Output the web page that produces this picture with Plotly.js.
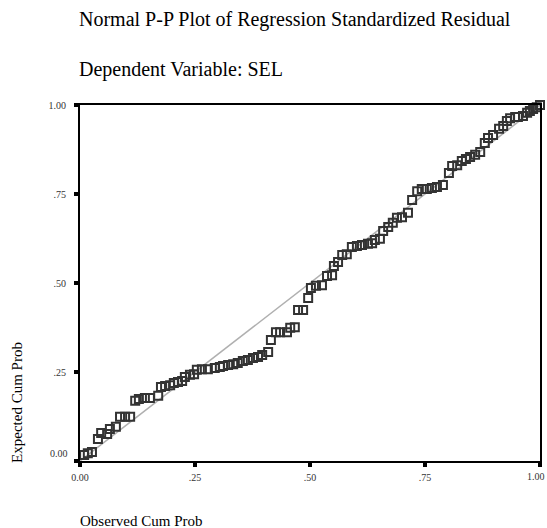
<!DOCTYPE html>
<html>
<head>
<meta charset="utf-8">
<script src="https://cdn.plot.ly/plotly-3.0.1.min.js"></script>
<style>html,body{margin:0;padding:0;background:#fff;}#chart{width:547px;height:528px;}</style>
</head>
<body>
<div id="chart"></div>
<script>
var observedCumProb = [0.009,0.017,0.026,0.039,0.046,0.059,0.065,0.078,0.087,0.098,0.109,0.120,0.128,0.141,0.152,0.170,0.176,0.185,0.196,0.204,0.213,0.222,0.228,0.239,0.248,0.254,0.265,0.278,0.293,0.304,0.311,0.322,0.333,0.343,0.354,0.365,0.376,0.387,0.396,0.409,0.415,0.426,0.435,0.450,0.457,0.467,0.474,0.485,0.496,0.502,0.513,0.526,0.537,0.548,0.552,0.561,0.570,0.580,0.591,0.602,0.613,0.626,0.635,0.641,0.652,0.659,0.670,0.680,0.689,0.700,0.713,0.722,0.733,0.743,0.754,0.765,0.776,0.789,0.802,0.809,0.820,0.830,0.839,0.848,0.859,0.870,0.880,0.887,0.898,0.911,0.920,0.928,0.935,0.946,0.952,0.963,0.972,0.978,0.985,0.993,1.000];
var expectedCumProb = [0.017,0.022,0.025,0.062,0.079,0.076,0.090,0.096,0.124,0.124,0.124,0.169,0.174,0.177,0.177,0.183,0.208,0.211,0.213,0.219,0.222,0.225,0.236,0.242,0.244,0.256,0.258,0.258,0.261,0.264,0.267,0.270,0.272,0.275,0.281,0.284,0.289,0.292,0.298,0.306,0.340,0.362,0.362,0.362,0.374,0.376,0.424,0.424,0.458,0.486,0.492,0.494,0.520,0.522,0.548,0.559,0.579,0.581,0.601,0.604,0.607,0.610,0.612,0.621,0.624,0.646,0.657,0.669,0.683,0.685,0.697,0.733,0.758,0.764,0.764,0.767,0.770,0.775,0.809,0.829,0.831,0.843,0.848,0.854,0.860,0.868,0.893,0.907,0.916,0.933,0.941,0.955,0.963,0.966,0.966,0.969,0.978,0.983,0.989,0.994,1.000];
var refLineX = [0, 1];
var refLineY = [0, 1];
var tickValues = [0, 0.25, 0.5, 0.75, 1];
var tickLabels = ["0.00", ".25", ".50", ".75", "1.00"];

var serif = "'Liberation Serif', 'Times New Roman', serif";
var tickFont = {family: serif, size: 10, color: "#333"};

var traces = [
  {x: refLineX, y: refLineY, mode: "lines", type: "scatter",
   line: {color: "#b0b0b0", width: 1.5}, hoverinfo: "skip", cliponaxis: false},
  {x: observedCumProb, y: expectedCumProb, mode: "markers", type: "scatter",
   marker: {symbol: "square-open", size: 8, color: "#333333", line: {color: "#333333", width: 2}},
   cliponaxis: false}
];

var axisCommon = {
  range: [0, 1], showgrid: false, zeroline: false,
  showline: true, mirror: true, linecolor: "#000", linewidth: 2,
  ticks: "outside", ticklen: 4, tickwidth: 4, tickcolor: "#000",
  tickvals: tickValues,
  tickfont: tickFont
};

// x axis: last label drawn as an annotation (shifted left to stay inside the page)
var xTickText = tickLabels.map(function (t, i) { return i === tickLabels.length - 1 ? "" : t; });
// y axis: first label drawn as an annotation (raised slightly, as in the reference)
var yTickText = tickLabels.map(function (t, i) { return i === 0 ? "" : t; });

var layout = {
  width: 547, height: 528,
  margin: {l: 80, r: 7, t: 105, b: 67},
  paper_bgcolor: "#fff", plot_bgcolor: "#fff",
  showlegend: false,
  xaxis: Object.assign({}, axisCommon, {ticktext: xTickText, ticklabelstandoff: 2}),
  yaxis: Object.assign({}, axisCommon, {ticktext: yTickText, ticklabelstandoff: 6}),
  annotations: [
    {text: "Normal P-P Plot of Regression Standardized Residual", xref: "paper", yref: "paper",
     x: -0.007, y: 1.239, xanchor: "left", yanchor: "middle", showarrow: false,
     font: {family: serif, size: 20, color: "#000"}},
    {text: "Dependent Variable: SEL", xref: "paper", yref: "paper",
     x: -0.007, y: 1.101, xanchor: "left", yanchor: "middle", showarrow: false,
     font: {family: serif, size: 20, color: "#000"}},
    {text: "Expected Cum Prob", xref: "paper", yref: "paper",
     x: -0.137, y: 0.166, xanchor: "center", yanchor: "middle", textangle: -90, showarrow: false,
     font: {family: serif, size: 15, color: "#000"}},
    {text: "Observed Cum Prob", xref: "paper", yref: "paper",
     x: -0.004, y: -0.169, xanchor: "left", yanchor: "middle", showarrow: false,
     font: {family: serif, size: 15, color: "#000"}},
    {text: tickLabels[tickLabels.length - 1], xref: "x", yref: "paper",
     x: tickValues[tickValues.length - 1], y: 0, xanchor: "right", yanchor: "middle",
     xshift: 7, yshift: -15, showarrow: false, font: tickFont},
    {text: tickLabels[0], xref: "paper", yref: "y",
     x: 0, y: tickValues[0], xanchor: "right", yanchor: "middle",
     xshift: -10, yshift: 8, showarrow: false, font: tickFont}
  ]
};

Plotly.newPlot("chart", traces, layout, {displayModeBar: false, staticPlot: true});
</script>
</body>
</html>
